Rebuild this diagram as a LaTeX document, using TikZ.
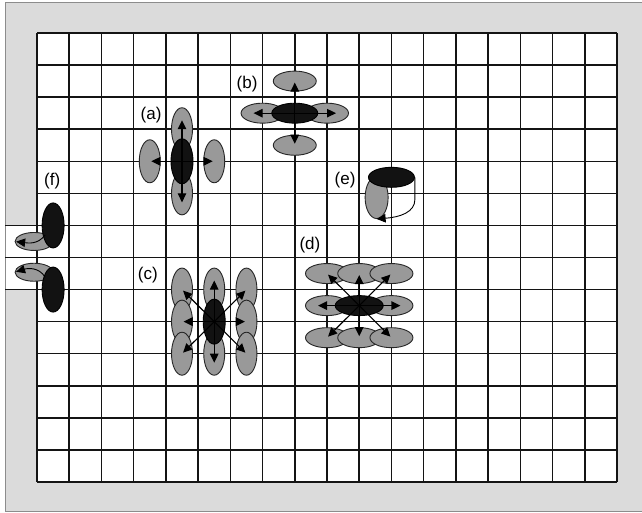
\documentclass[tikz,border=0pt]{standalone}
\usepackage{fontspec}
\setmainfont{Liberation Sans}
\usetikzlibrary{arrows.meta,shapes.geometric}
\definecolor{wallgray}{gray}{0.86}
\definecolor{framegray}{gray}{0.55}
\definecolor{midgray}{gray}{0.6}
\definecolor{nearblack}{gray}{0.07}
\begin{document}
\begin{tikzpicture}[x=1pt,y=-1pt,
  gridline/.style={line width=1.5pt, draw=black!92},
  gv/.style={ellipse, draw=black!85, line width=0.9pt, fill=midgray, minimum width=21pt, minimum height=43pt, inner sep=0pt},
  gh/.style={ellipse, draw=black!85, line width=0.9pt, fill=midgray, minimum width=43pt, minimum height=20pt, inner sep=0pt},
  bv/.style={ellipse, draw=black, line width=0.9pt, fill=nearblack, minimum width=22pt, minimum height=45pt, inner sep=0pt},
  bh/.style={ellipse, draw=black, line width=0.9pt, fill=nearblack, minimum width=46pt, minimum height=20pt, inner sep=0pt},
  arr/.style={line width=1.1pt, draw=black, -{Triangle[length=9pt,width=8.5pt]}},
  major/.style={shorten >=-9pt},
  minor/.style={shorten >=1.5pt},
  lab/.style={font=\fontsize{17}{20}\selectfont, inner sep=0pt}]
\useasboundingbox (0,0) rectangle (642,513);
% walls
\fill[wallgray] (5,2) rectangle (660,511);
\fill[white] (37,33) rectangle (617,482);
\fill[white] (5,225.5) rectangle (37,289.8);
\draw[framegray, line width=0.8pt] (660,2) -- (5,2) -- (5,511) -- (660,511);
\begin{scope}[shift={(37,33)}, x=32.2222pt, y=-32.0714pt]
% grid
\foreach \i in {0,...,18} \draw[gridline] (\i,0) -- (\i,14);
\foreach \j in {0,...,14} \draw[gridline] (0,\j) -- (18,\j);
\foreach \j in {6,7,8} \draw[gridline] (-0.993,\j) -- (0,\j);
% labels
\node[lab] (la) at (3.54,2.56) {(a)};
\node[lab] (lb) at (6.52,1.59) {(b)};
\node[lab] (lc) at (3.44,7.55) {(c)};
\node[lab] (ld) at (8.47,6.61) {(d)};
\node[lab] (le) at (9.56,4.58) {(e)};
\node[lab] (lf) at (0.47,4.61) {(f)};
% (a)
\node[gv] (aU) at (4.5,3) {};
\node[gv] (aD) at (4.5,5) {};
\node[gv] (aL) at (3.5,4) {};
\node[gv] (aR) at (5.5,4) {};
\node[bv] (aB) at (4.5,4) {};
\draw[arr,major] (aB.center) -- (aU.center);
\draw[arr,major] (aB.center) -- (aD.center);
\draw[arr,minor] (aB.center) -- (aL.center);
\draw[arr,minor] (aB.center) -- (aR.center);
% (b)
\node[gh] (bU) at (8,1.5) {};
\node[gh] (bD) at (8,3.5) {};
\node[gh] (bL) at (7,2.5) {};
\node[gh] (bR) at (9,2.5) {};
\node[bh] (bB) at (8,2.5) {};
\draw[arr,minor] (bB.center) -- (bU.center);
\draw[arr,minor] (bB.center) -- (bD.center);
\draw[arr,major] (bB.center) -- (bL.center);
\draw[arr,major] (bB.center) -- (bR.center);
% (c)
\node[gv] (cLU) at (4.5,8) {};
\node[gv] (cLM) at (4.5,9) {};
\node[gv] (cLD) at (4.5,10) {};
\node[gv] (cMU) at (5.5,8) {};
\node[gv] (cMD) at (5.5,10) {};
\node[gv] (cRU) at (6.5,8) {};
\node[gv] (cRM) at (6.5,9) {};
\node[gv] (cRD) at (6.5,10) {};
\node[bv] (cB) at (5.5,9) {};
\draw[arr,major] (cB.center) -- (cMU.center);
\draw[arr,major] (cB.center) -- (cMD.center);
\draw[arr,minor] (cB.center) -- (cLM.center);
\draw[arr,minor] (cB.center) -- (cRM.center);
\draw[arr,minor] (cB.center) -- (cLU.center);
\draw[arr,minor] (cB.center) -- (cRU.center);
\draw[arr,minor] (cB.center) -- (cLD.center);
\draw[arr,minor] (cB.center) -- (cRD.center);
% (d)
\node[gh] (dLU) at (9,7.5) {};
\node[gh] (dMU) at (10,7.5) {};
\node[gh] (dRU) at (11,7.5) {};
\node[gh] (dLM) at (9,8.5) {};
\node[gh] (dRM) at (11,8.5) {};
\node[gh] (dLD) at (9,9.5) {};
\node[gh] (dMD) at (10,9.5) {};
\node[gh] (dRD) at (11,9.5) {};
\node[bh, minimum width=48pt] (dB) at (10,8.5) {};
\draw[arr,minor] (dB.center) -- (dMU.center);
\draw[arr,minor] (dB.center) -- (dMD.center);
\draw[arr,major] (dB.center) -- (dLM.center);
\draw[arr,major] (dB.center) -- (dRM.center);
\draw[arr,minor] (dB.center) -- (dLU.center);
\draw[arr,minor] (dB.center) -- (dRU.center);
\draw[arr,minor] (dB.center) -- (dLD.center);
\draw[arr,minor] (dB.center) -- (dRD.center);
% (e)
\node[gv, minimum width=23pt, minimum height=42pt] (eG) at (10.54,5.13) {};
\node[bh] (eB) at (11,4.5) {};
\draw[arr, line width=0.9pt] (eB.east) -- ++(0,0.69) coordinate (eK)
  .. controls +(0,0.4) and (11.27,5.74) .. (eG.south);
% (f)
\node[gh, minimum width=38pt, minimum height=18pt] (fG1) at (-0.09,6.5) {};
\node[gh, minimum width=38pt, minimum height=18pt] (fG2) at (-0.09,7.46) {};
\node[bv] (fB1) at (0.5,6) {};
\node[bv] (fB2) at (0.5,8) {};
\coordinate (fS1) at (0.25,6.3);
\coordinate (fS2) at (0.25,7.61);
\draw[arr, line width=0.9pt, shorten >=1.5pt] (fS1) .. controls (0.03,6.6) and (-0.28,6.55) .. (fG1.west);
\draw[arr, line width=0.9pt, shorten >=1.5pt] (fS2) .. controls (0.06,7.3) and (-0.28,7.33) .. (fG2.west);
\end{scope}
\end{tikzpicture}
\end{document}
